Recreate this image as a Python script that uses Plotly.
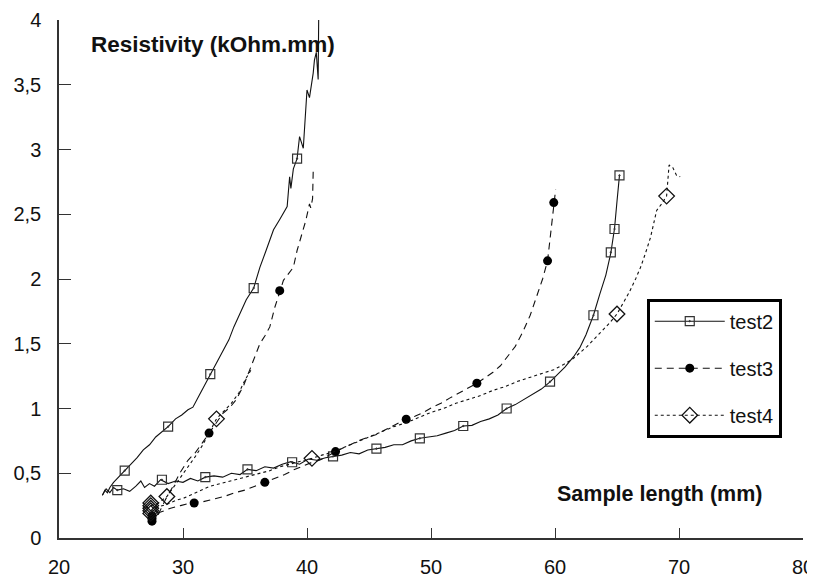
import plotly.graph_objects as go

# ---------------- data ----------------
# test2 : two specimens (steep curve and long curve)
t2a_x = [23.5,23.7,23.9,24.1,24.4,24.8,25.3,25.8,26.3,26.8,27.3,27.8,28.3,28.8,29.4,29.9,30.4,30.8,31.3,31.8,
         32.2,32.7,33.2,33.7,34.1,34.6,35.1,35.7,36.2,36.7,37.3,37.8,38.2,38.4,38.6,38.7,38.9,39.2,39.4,39.7,
         40.0,40.2,40.5,40.6,40.75,40.9,40.95]
t2a_y = [0.33,0.37,0.35,0.39,0.43,0.47,0.52,0.57,0.62,0.68,0.72,0.78,0.82,0.86,0.92,0.95,0.99,1.01,1.10,1.19,
         1.26,1.34,1.43,1.53,1.63,1.73,1.84,1.93,2.09,2.22,2.38,2.46,2.53,2.56,2.79,2.70,2.85,2.93,3.10,3.01,
         3.46,3.40,3.59,3.69,3.75,3.54,4.10]
t2b_x = [23.5,23.8,24.1,24.4,24.7,25.2,25.7,26.2,26.6,26.9,27.3,27.7,28.2,28.8,29.4,30.0,30.6,31.2,31.8,32.5,
         33.2,33.9,34.6,35.2,35.9,36.6,37.3,38.0,38.7,39.4,40.1,40.8,41.5,42.1,42.8,43.5,44.2,44.9,45.6,46.3,
         47.0,47.7,48.4,49.1,49.8,50.5,51.2,51.9,52.6,53.3,54.0,54.7,55.4,56.1,56.8,57.5,58.2,58.9,59.6,60.2,
         60.8,61.5,62.0,62.5,63.1,63.6,64.1,64.5,64.8,65.0,65.2]
t2b_y = [0.33,0.38,0.35,0.39,0.37,0.38,0.36,0.40,0.44,0.39,0.42,0.40,0.45,0.42,0.44,0.43,0.46,0.44,0.47,0.48,
         0.47,0.50,0.49,0.53,0.52,0.55,0.54,0.57,0.59,0.57,0.61,0.60,0.62,0.63,0.64,0.66,0.65,0.68,0.69,0.70,
         0.72,0.72,0.75,0.77,0.78,0.79,0.81,0.83,0.865,0.87,0.90,0.92,0.95,1.00,1.03,1.07,1.11,1.15,1.205,1.26,
         1.32,1.40,1.47,1.57,1.72,1.88,2.03,2.20,2.39,2.60,2.80]
t2m_x = [25.3,28.8,32.2,35.7,39.2,24.7,28.3,31.8,35.2,38.8,42.1,45.6,49.1,52.6,56.1,59.6,63.1,64.5,64.8,65.2]
t2m_y = [0.52,0.86,1.265,1.93,2.93,0.37,0.45,0.47,0.53,0.585,0.63,0.69,0.77,0.865,1.0,1.207,1.72,2.206,2.386,2.80]

# test3
t3a_x = [28.0,28.6,29.2,29.8,30.4,31.0,31.6,32.1,32.7,33.2,33.8,34.3,34.9,35.4,35.8,36.2,36.6,37.0,37.4,37.8,
         38.1,38.5,38.9,39.2,39.6,39.9,40.2,40.3,40.45,40.5]
t3a_y = [0.18,0.30,0.40,0.51,0.60,0.66,0.74,0.81,0.90,0.96,1.01,1.07,1.18,1.30,1.40,1.50,1.56,1.63,1.78,1.91,
         1.99,2.04,2.09,2.22,2.35,2.45,2.58,2.55,2.62,2.83]
t3b_x = [27.5,27.6,28.2,29.0,29.8,30.8,31.6,32.4,33.3,34.2,35.0,35.8,36.6,37.4,38.2,38.9,39.6,40.3,41.0,41.6,
         42.3,43.0,43.7,44.3,45.0,45.6,46.2,46.8,47.4,48.0,48.7,49.4,50.1,50.8,51.5,52.3,53.0,53.7,54.4,55.0,
         55.6,56.1,56.8,57.4,58.0,58.5,59.0,59.4,59.7,59.9,60.05]
t3b_y = [0.12,0.18,0.20,0.23,0.25,0.275,0.28,0.30,0.32,0.35,0.37,0.40,0.43,0.46,0.49,0.525,0.555,0.58,0.60,0.63,
         0.667,0.70,0.73,0.757,0.78,0.80,0.83,0.86,0.89,0.917,0.94,0.97,1.01,1.04,1.08,1.12,1.16,1.195,1.24,1.28,
         1.33,1.39,1.48,1.59,1.72,1.86,2.00,2.14,2.40,2.59,2.69]
t3m_x = [32.1,37.8,27.5,27.5,27.5,30.9,36.6,42.3,48.0,53.7,59.4,59.9]
t3m_y = [0.81,1.91,0.13,0.15,0.17,0.27,0.43,0.667,0.917,1.195,2.14,2.59]

# test4
t4a_x = [27.4,28.0,28.7,29.3,29.8,30.4,31.0,31.6,32.2,32.7,33.3,33.9,34.5,35.0,35.5]
t4a_y = [0.25,0.27,0.32,0.40,0.47,0.55,0.63,0.72,0.83,0.92,0.98,1.04,1.12,1.22,1.30]
t4b_x = [27.4,28.0,28.7,29.4,30.1,30.8,31.5,32.2,33.0,33.8,34.6,35.4,36.2,37.0,37.8,38.6,39.5,40.4,41.2,42.0,
         43.0,44.0,45.0,46.0,47.0,48.0,49.0,50.0,51.0,52.0,53.0,54.0,55.0,56.0,57.0,58.0,59.0,59.9,60.7,61.4,
         62.0,62.6,63.2,63.8,64.4,65.0,65.5,66.0,66.5,66.9,67.3,67.7,68.2,68.6,69.0,69.1,69.2,69.5,69.8,70.1]
t4b_y = [0.20,0.24,0.26,0.29,0.31,0.34,0.37,0.40,0.42,0.44,0.46,0.48,0.50,0.52,0.55,0.57,0.59,0.615,0.64,0.66,
         0.70,0.74,0.78,0.82,0.86,0.89,0.93,0.97,1.00,1.04,1.07,1.10,1.14,1.17,1.21,1.24,1.27,1.30,1.34,1.38,
         1.43,1.48,1.54,1.60,1.66,1.73,1.81,1.90,2.00,2.09,2.20,2.32,2.53,2.58,2.64,2.75,2.88,2.86,2.80,2.79]
t4m_x = [27.4,27.4,27.4,27.4,27.4,28.7,32.7,40.4,65.0,69.0]
t4m_y = [0.19,0.21,0.23,0.25,0.27,0.32,0.92,0.615,1.73,2.64]

series_names = ["test2", "test3", "test4"]
x_ticks = [20, 30, 40, 50, 60, 70, 80]
y_ticks = [0, 0.5, 1, 1.5, 2, 2.5, 3, 3.5, 4]

# ---------------- styling ----------------
FONT = "Liberation Sans, Arial, sans-serif"
INK = "#111111"
styles = {
    "test2": dict(dash="solid", width=1.1,
                  marker=dict(symbol="square-open-dot", size=9, color="#333", line=dict(width=1.2, color="#333"))),
    "test3": dict(dash="7px,5px", width=1.1,
                  marker=dict(symbol="circle", size=9, color="#000", line=dict(width=0))),
    "test4": dict(dash="3px,3px", width=1.1,
                  marker=dict(symbol="diamond-open", size=12, color="#111", line=dict(width=1.3, color="#111"))),
}

def join(xa, ya, xb, yb):
    return xa + [None] + xb, ya + [None] + yb

curves = {
    "test2": (join(t2a_x, t2a_y, t2b_x, t2b_y), (t2m_x, t2m_y)),
    "test3": (join(t3a_x, t3a_y, t3b_x, t3b_y), (t3m_x, t3m_y)),
    "test4": (join(t4a_x, t4a_y, t4b_x, t4b_y), (t4m_x, t4m_y)),
}

fig = go.Figure()
for name in series_names:
    (lx, ly), (mx, my) = curves[name]
    st = styles[name]
    fig.add_trace(go.Scatter(x=lx, y=ly, mode="lines", showlegend=False, legendgroup=name,
                             line=dict(color=INK, width=st["width"], dash=st["dash"]),
                             connectgaps=False, hoverinfo="skip"))
    fig.add_trace(go.Scatter(x=mx, y=my, mode="markers", showlegend=False, legendgroup=name,
                             marker=st["marker"], hoverinfo="skip"))
    # legend entry
    fig.add_trace(go.Scatter(x=[None], y=[None], mode="lines+markers", name=name, legendgroup=name,
                             line=dict(color=INK, width=st["width"], dash=st["dash"]),
                             marker=st["marker"]))

# the page body adds an 8px offset, so the figure is 8px smaller on each side
fig.update_layout(
    width=807, height=570,
    margin=dict(l=51, r=12, t=12, b=40, autoexpand=False),
    paper_bgcolor="white", plot_bgcolor="white",
    separators=", ",
    font=dict(family=FONT, size=20, color=INK),
    showlegend=True,
    legend=dict(x=0.790, y=0.462, xanchor="left", yanchor="top",
                bgcolor="white", bordercolor="#000", borderwidth=3,
                font=dict(family=FONT, size=20, color=INK),
                tracegroupgap=18, itemwidth=70),
    xaxis=dict(range=[20, 80], tickvals=x_ticks, ticks="inside", ticklen=10, tickwidth=1.3,
               tickcolor="#333", showline=True, linecolor="#333", linewidth=1.5,
               showgrid=False, zeroline=False, ticklabelstandoff=10, automargin=False,
               tickfont=dict(family=FONT, size=20, color=INK)),
    yaxis=dict(range=[0, 4], tickvals=y_ticks, ticks="inside", ticklen=12, tickwidth=1.3,
               tickcolor="#333", showline=True, linecolor="#333", linewidth=1.5,
               showgrid=False, zeroline=False, ticklabelstandoff=12, automargin=False,
               tickfont=dict(family=FONT, size=20, color=INK)),
    annotations=[
        dict(text="<b>Resistivity (kOhm.mm)</b>", xref="paper", yref="paper",
             x=(89 - 59) / 744, y=(538 - 44) / 518, xanchor="left", yanchor="middle",
             showarrow=False, font=dict(family=FONT, size=22.5, color=INK)),
        dict(text="<b>Sample length (mm)</b>", xref="paper", yref="paper",
             x=(764 - 59) / 744, y=(538 - 494) / 518, xanchor="right", yanchor="middle",
             showarrow=False, font=dict(family=FONT, size=21.5, color=INK)),
    ],
)

fig.write_html("out.html")
